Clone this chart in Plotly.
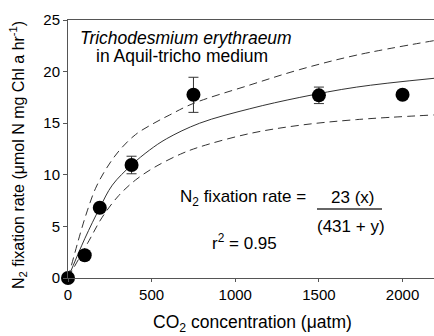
import plotly.graph_objects as go

# Data
co2 = [0, 100, 190, 380, 750, 1500, 2000]
rate = [0.0, 2.2, 6.8, 10.95, 17.75, 17.7, 17.75]
rate_err = [0.2, 0.2, 0.2, 0.85, 1.7, 0.8, 0.35]

mid_x = [0, 100, 190, 265, 380, 488, 590, 787, 1087, 1386, 1726, 2188]
mid_y = [0.0, 3.8, 6.8, 9.0, 10.95, 12.4, 13.5, 15.0, 16.4, 17.5, 18.5, 19.35]
up_x = [0, 75, 115, 165, 225, 304, 404, 514, 608, 747, 1087, 1386, 1726, 2188]
up_y = [0.0, 4.4, 6.5, 8.7, 10.5, 12.3, 13.9, 15.0, 15.8, 16.9, 18.7, 20.2, 21.6, 23.0]
lo_x = [0, 125, 205, 304, 404, 514, 672, 787, 1087, 1386, 1726, 2188]
lo_y = [0.0, 3.6, 5.9, 8.0, 9.5, 10.7, 12.0, 12.7, 14.0, 14.8, 15.35, 15.8]

x_ticks = [0, 500, 1000, 1500, 2000]
y_ticks = [0, 5, 10, 15, 20, 25]

FONT = "Liberation Sans, Arial, sans-serif"
LC = "#333333"
AX = "#555555"

fig = go.Figure()
for xs, ys, dash in [(up_x, up_y, "8px,5px"), (lo_x, lo_y, "8px,5px"), (mid_x, mid_y, "solid")]:
    fig.add_trace(go.Scatter(x=xs, y=ys, mode="lines",
                             line=dict(color=LC, width=1, dash=dash, shape="spline", smoothing=1.0),
                             hoverinfo="skip", showlegend=False))
fig.add_trace(go.Scatter(x=co2, y=rate, mode="markers",
                         marker=dict(color="black", size=14),
                         error_y=dict(type="data", array=rate_err, color=LC, thickness=1, width=5),
                         cliponaxis=False, showlegend=False))

fig.update_layout(
    width=434, height=336,
    margin=dict(l=68, r=0, t=20, b=58),
    paper_bgcolor="white", plot_bgcolor="white",
    font=dict(family=FONT, size=15, color="black"),
    xaxis=dict(range=[0, 2188], tickvals=x_ticks, showgrid=False, zeroline=False,
               showline=True, linecolor=AX, linewidth=1, mirror=True,
               ticks="outside", ticklen=3, tickcolor=AX, automargin=False,
               tickfont=dict(size=15)),
    yaxis=dict(range=[0, 25], tickvals=y_ticks, showgrid=False, zeroline=False,
               showline=True, linecolor=AX, linewidth=1,
               ticks="outside", ticklen=4, tickcolor=AX, automargin=False,
               tickfont=dict(size=15)),
)

def px2paper(px, py):
    return (px - 68) / 366, 1 - (py - 20) / 258

ann = [
    (186, 38, "<i>Trichodesmium erythraeum</i>", 17.5, 0),
    (182, 56, "in Aquil-tricho medium", 17.5, 0),
    (245, 198, "N<sub>2</sub> fixation rate = ", 17, 0),
    (352, 197, "23 (x)", 17, 0),
    (351, 226, "(431 + y)", 17, 0),
    (244, 242, "r<sup>2</sup> = 0.95", 17, 0),
    (252, 323, "CO<sub>2</sub> concentration (\u03bcatm)", 17.5, 0),
    (18, 155, "N<sub>2</sub> fixation rate (\u03bcmol N mg Chl a hr<sup>-1</sup>)", 16, -90),
]
for x, y, t, s, ang in ann:
    xp, yp = px2paper(x, y)
    fig.add_annotation(xref="paper", yref="paper", x=xp, y=yp, text=t, showarrow=False,
                       font=dict(size=s, family=FONT), textangle=ang,
                       xanchor="center", yanchor="middle")

x0, y0 = px2paper(317, 209)
x1, _ = px2paper(382, 209)
fig.add_shape(type="line", xref="paper", yref="paper", x0=x0, x1=x1, y0=y0, y1=y0,
              line=dict(color="#333333", width=1.5))

fig.write_html("out.html", config={"displayModeBar": False},
               post_script="document.body.style.margin='0';document.body.style.overflow='hidden';")
